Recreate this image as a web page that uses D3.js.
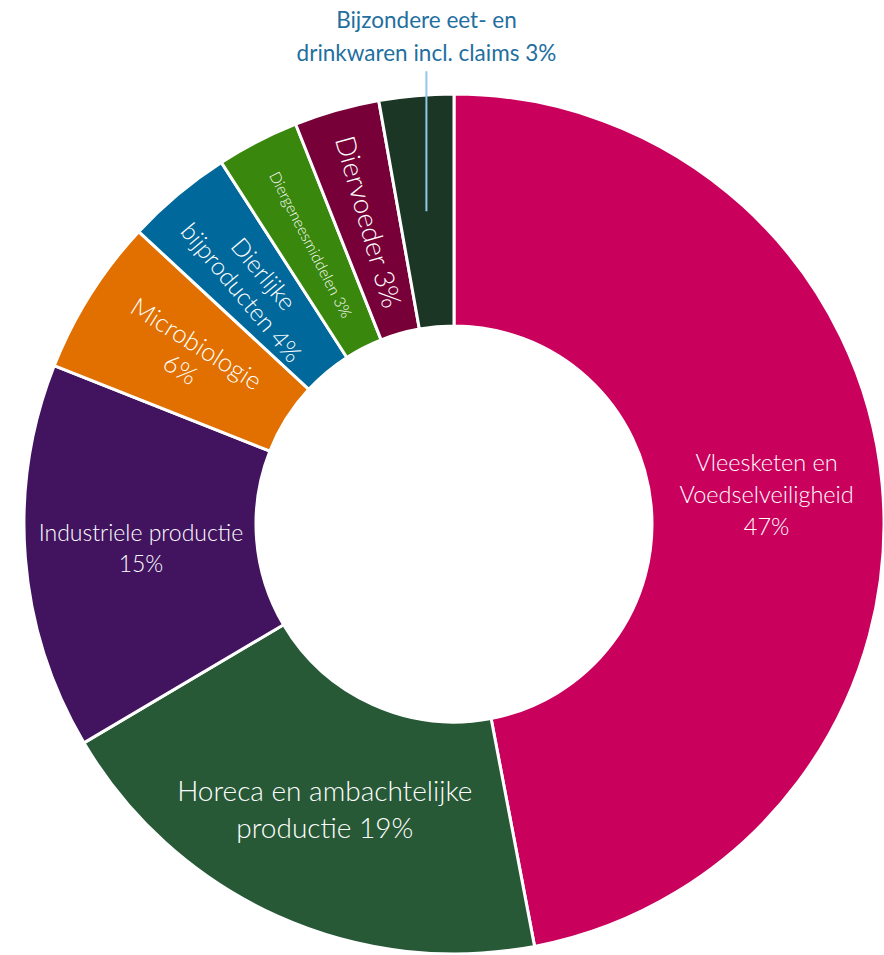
<!DOCTYPE html>
<html>
<head>
<meta charset="utf-8">
<script src="https://cdn.jsdelivr.net/npm/d3@7"></script>
<style>
  html, body { margin: 0; padding: 0; background: #fff; }
  svg text { font-family: Lato, "Noto Sans", sans-serif; }
</style>
</head>
<body>
<svg id="chart" width="884" height="955"></svg>
<script>
// ---- data ----
const categories = [
  "Vleesketen en Voedselveiligheid",
  "Horeca en ambachtelijke productie",
  "Industriele productie",
  "Microbiologie",
  "Dierlijke bijproducten",
  "Diergeneesmiddelen",
  "Diervoeder",
  "Bijzondere eet- en drinkwaren incl. claims"
];
const values = [47.0, 19.5, 14.5, 5.9, 4.0, 3.1, 3.2, 2.8];
const pctLabels = ["47%", "19%", "15%", "6%", "4%", "3%", "3%", "3%"];
const labelLines = [
  ["Vleesketen en", "Voedselveiligheid", "47%"],
  ["Horeca en ambachtelijke", "productie 19%"],
  ["Industriele productie", "15%"],
  ["Microbiologie", "6%"],
  ["Dierlijke", "bijproducten 4%"],
  ["Diergeneesmiddelen 3%"],
  ["Diervoeder 3%"],
  ["Bijzondere eet- en", "drinkwaren incl. claims 3%"]
];

// ---- style ----
const colors = ["#ca005d", "#275937", "#42145f", "#e17000", "#01689b", "#39870c", "#780038", "#1b3624"];
const labelMode = ["flat", "flat", "flat", "radial", "radial", "radial", "radial", "outside"];
const fontSizes = [23.5, 28, 23, 25.5, 24.5, 15.5, 27.5, 22.5];
const fontWeights = [300, 300, 300, 300, 300, 300, 300, 400];
const lineHeights = [32, 37, 31, 30, 29, 16, 30, 33];

const cx = 454, cy = 524, rOuter = 430, rInner = 198;

const svg = d3.select("#chart");
const g = svg.append("g").attr("transform", `translate(${cx},${cy})`);

const pie = d3.pie().sort(null).value(d => d.v);
const data = categories.map((c, i) => ({ c, v: values[i], i }));
const arcs = pie(data);
const arc = d3.arc().innerRadius(rInner).outerRadius(rOuter);

g.selectAll("path.slice")
  .data(arcs)
  .join("path")
  .attr("class", "slice")
  .attr("d", arc)
  .attr("fill", d => colors[d.data.i])
  .attr("stroke", "#fff")
  .attr("stroke-width", 3)
  .attr("stroke-linejoin", "miter");

// labels
arcs.forEach(d => {
  const i = d.data.i;
  const [x, y] = arc.centroid(d);
  const mid = (d.startAngle + d.endAngle) / 2 * 180 / Math.PI;
  const lines = labelLines[i];
  const fs = fontSizes[i], lh = lineHeights[i];
  if (labelMode[i] === "outside") {
    g.append("line")
      .attr("x1", x).attr("y1", y)
      .attr("x2", x).attr("y2", y - 140)
      .attr("stroke", "#8fcae7").attr("stroke-width", 2);
    const t = g.append("text")
      .attr("text-anchor", "middle")
      .attr("fill", "#1f6f9f")
      .attr("font-size", fs)
      .attr("font-weight", fontWeights[i]);
    lines.forEach((ln, k) => {
      t.append("tspan").attr("x", x).attr("y", y - 183 + k * lh).text(ln);
    });
    return;
  }
  const rot = labelMode[i] === "radial" ? mid - 270 : 0;
  const t = g.append("text")
    .attr("transform", `translate(${x},${y}) rotate(${rot})`)
    .attr("text-anchor", "middle")
    .attr("fill", "#fff")
    .attr("font-size", fs)
    .attr("font-weight", fontWeights[i]);
  const n = lines.length;
  lines.forEach((ln, k) => {
    t.append("tspan")
      .attr("x", 0)
      .attr("y", (k - (n - 1) / 2) * lh)
      .attr("dy", "0.35em")
      .text(ln);
  });
});
</script>
</body>
</html>
